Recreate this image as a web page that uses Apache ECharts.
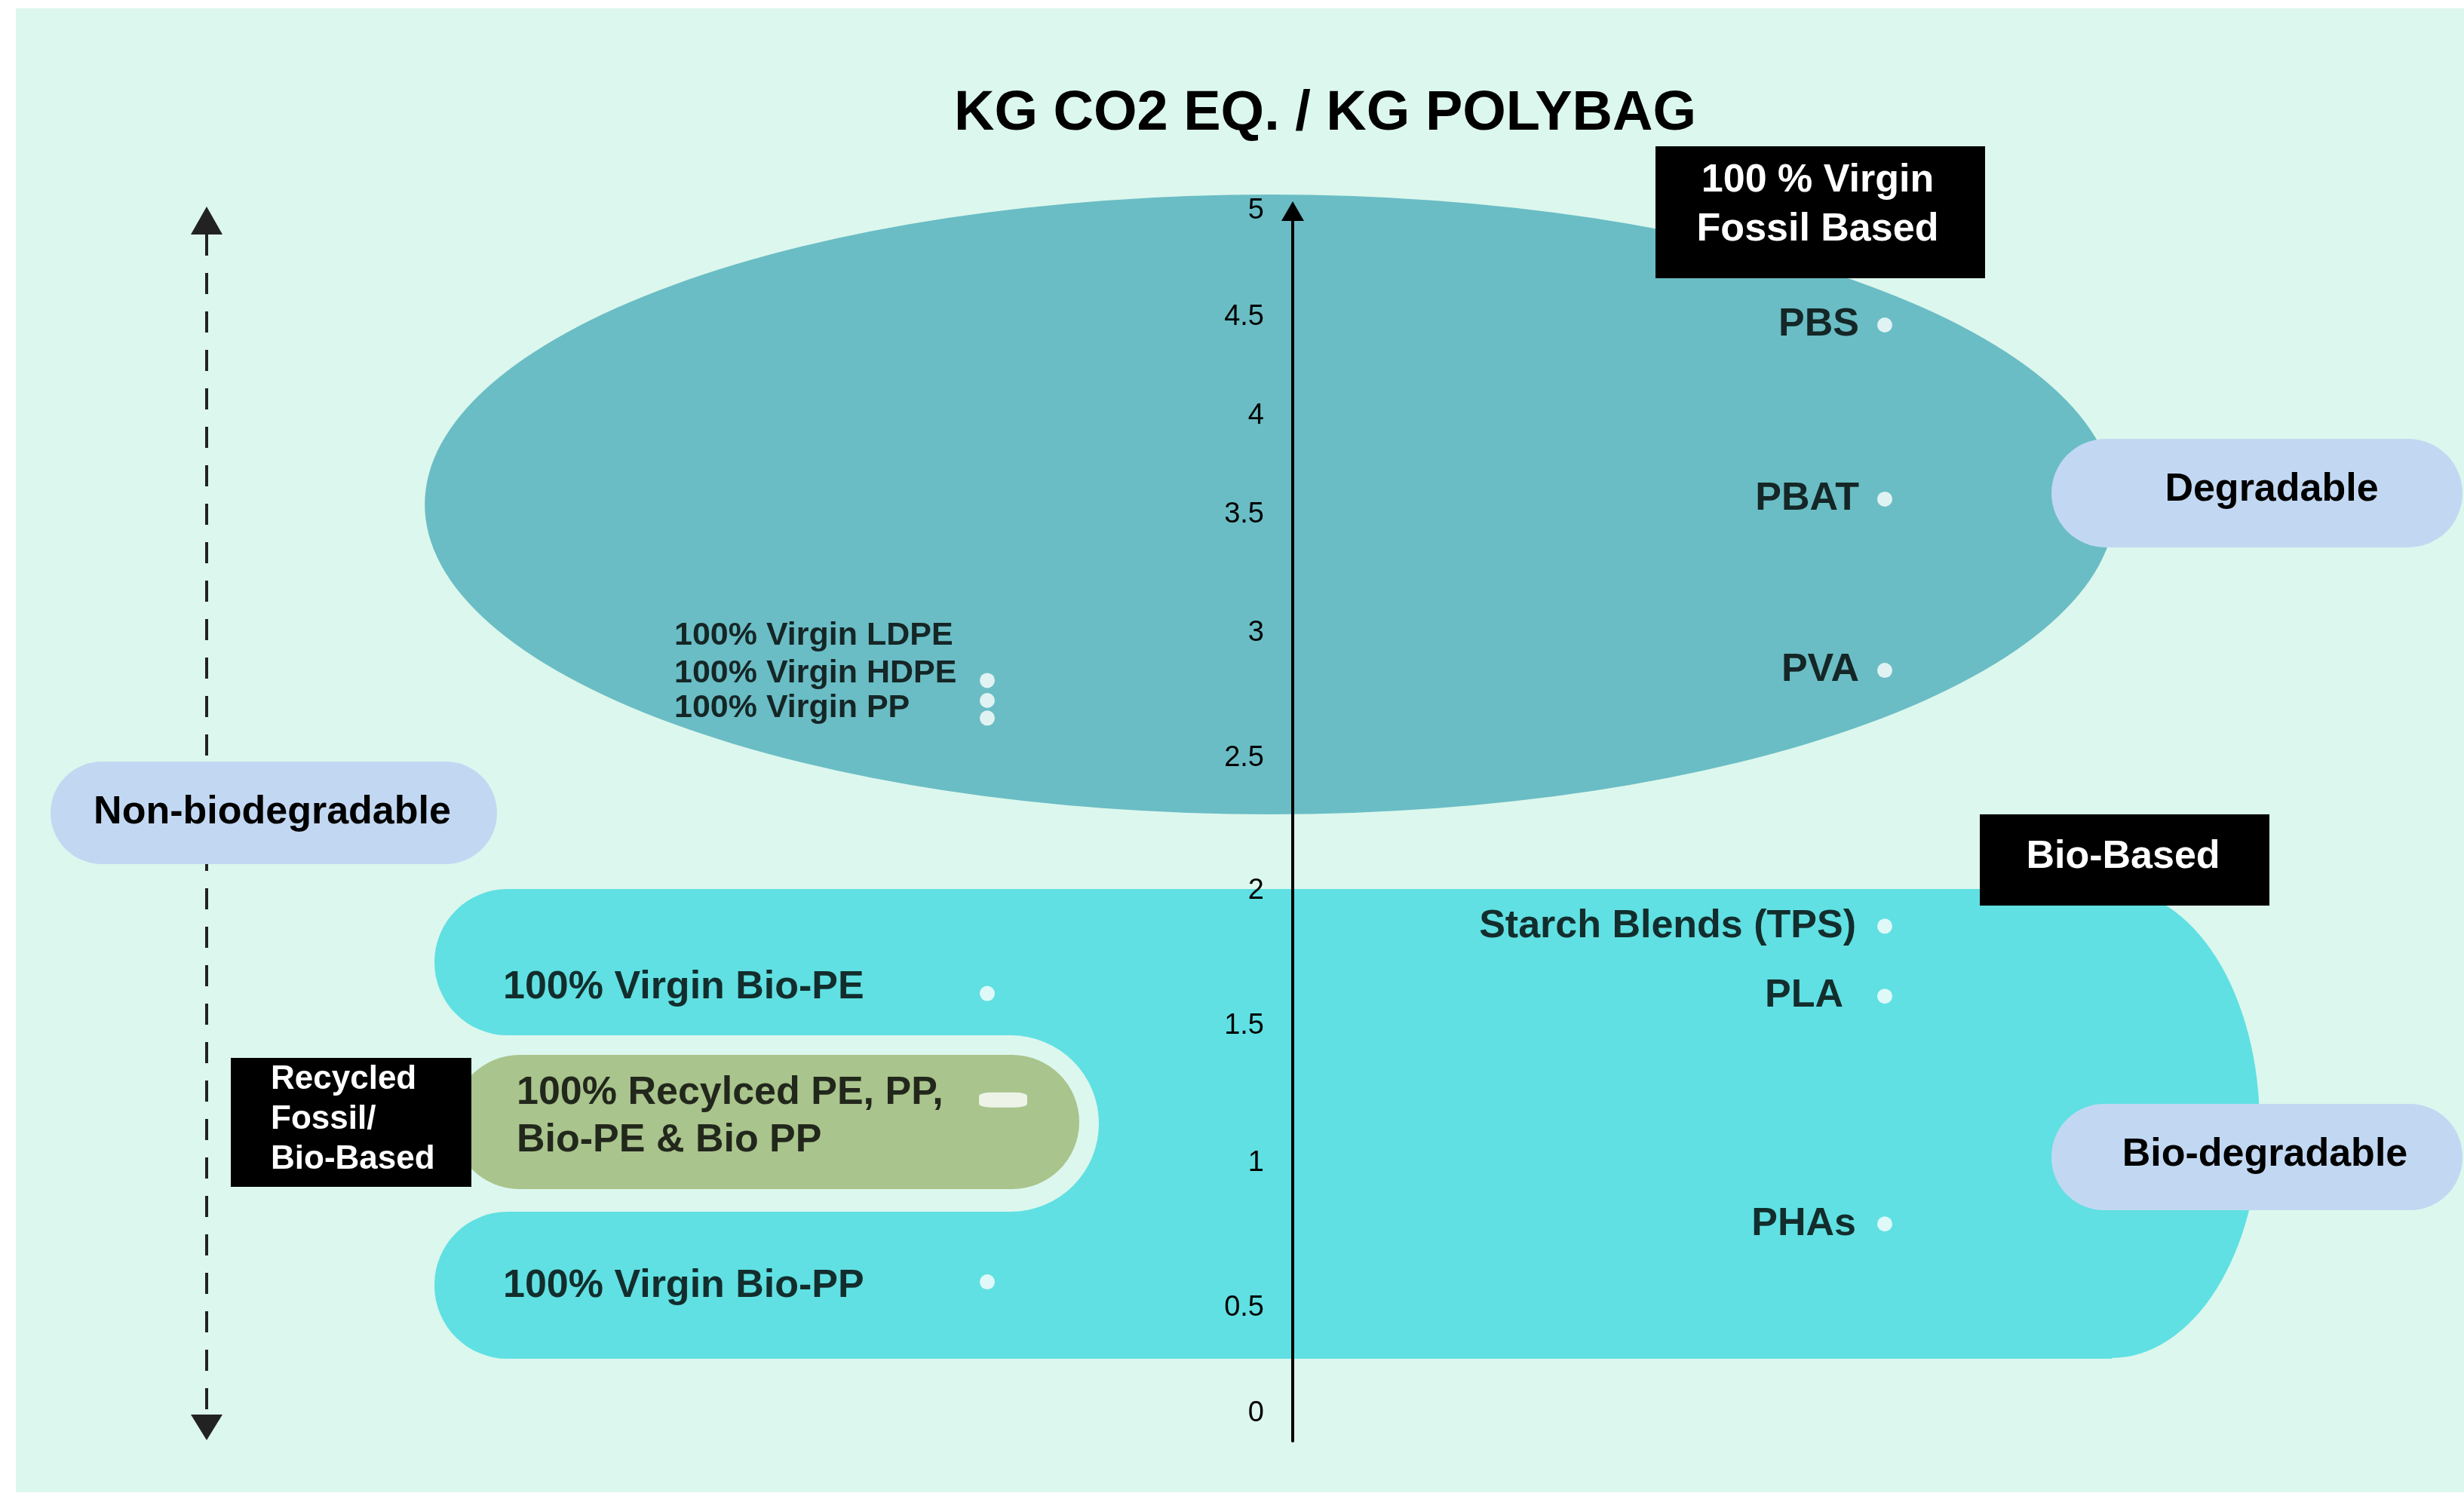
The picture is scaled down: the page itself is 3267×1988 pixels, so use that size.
<!DOCTYPE html>
<html>
<head>
<meta charset="UTF-8">
<title>KG CO2 EQ. / KG POLYBAG</title>
<script src="https://cdn.jsdelivr.net/npm/echarts@6/dist/echarts.min.js"></script>
<style>
html, body {
	margin: 0;
	padding: 0;
	background: #ffffff;
}

#main {
	width: 3267px;
	height: 1988px;
}
</style>
</head>
<body>
	<div id="main"></div>
	<script>
		// kg CO2 eq. per kg of bag
		var yTicks = [ 0, 0.5, 1, 1.5, 2, 2.5, 3, 3.5, 4, 4.5, 5 ];

		var fossilNames = [ '100% Virgin LDPE', '100% Virgin HDPE', '100% Virgin PP' ];
		var fossilValues = [ 2.81, 2.73, 2.66 ];

		var degradableNames = [ 'PBS', 'PBAT', 'PVA' ];
		var degradableValues = [ 4.46, 3.58, 2.85 ];

		var bioNames = [ '100% Virgin Bio-PE', '100% Virgin Bio-PP' ];
		var bioValues = [ 1.62, 0.59 ];

		var recycledNames = [ '100% Recylced PE, PP,\nBio-PE & Bio PP' ];
		var recycledValues = [ 1.23 ];

		var biodegNames = [ 'Starch Blends (TPS)', 'PLA', 'PHAs' ];
		var biodegValues = [ 1.87, 1.61, 0.79 ];

		// the drawn axis is not evenly spaced: height of each tick on a 0..5 run
		var tickStops = [ 0, 0.437, 1.040, 1.611, 2.171, 2.724, 3.246, 3.736, 4.149, 4.559, 5 ];

		// horizontal place of the two columns of dots (the axis sits at 0)
		var COL_LEFT = -4.05, COL_RIGHT = 7.85;

		var bg = '#dcf7ee', teal = '#6abdc4', cyan = '#60e0e2', olive = '#a9c48c', pill = '#c2d8f2';
		var FONT = 'Liberation Sans';

		function toAxis(v) {
			for (var i = 0; i < yTicks.length - 1; i++) {
				if (v <= yTicks[i + 1]) {
					var t = (v - yTicks[i]) / (yTicks[i + 1] - yTicks[i]);
					return tickStops[i] + t * (tickStops[i + 1] - tickStops[i]);
				}
			}
			return tickStops[tickStops.length - 1];
		}

		function points(names, values, x, labels) {
			return names.map(function(n, i) {
				var item = { name : n, value : [ x, toAxis(values[i]), values[i] ] };
				if (labels && labels[i]) item.label = labels[i];
				return item;
			});
		}

		var labelBase = {
			show : true,
			formatter : '{b}',
			color : '#000',
			fontFamily : FONT,
			fontWeight : 'bold',
			fontSize : 52
		};

		function dots(name, data, label) {
			return {
				name : name,
				type : 'scatter',
				z : 11,
				clip : false,
				symbolSize : 20,
				itemStyle : { color : '#fff' },
				emphasis : { disabled : true },
				label : Object.assign({}, labelBase, label),
				data : data
			};
		}

		var myChart = echarts.init(document.getElementById('main'));

		var recycledSeries = dots('Recycled', points(recycledNames, recycledValues, COL_LEFT), {
			position : 'inside', align : 'left', verticalAlign : 'middle', lineHeight : 63, offset : [ -645, 22 ]
		});
		recycledSeries.symbol = 'roundRect';
		recycledSeries.symbolSize = [ 64, 20 ];
		recycledSeries.symbolOffset = [ 21, 0 ];

		var option = {
			animation : false,
			backgroundColor : '#ffffff',
			// the grid starts at the vertical axis; the left column is drawn outside it
			grid : {
				left : 1714,
				right : 0,
				top : 280,
				bottom : 77,
				outerBoundsMode : 'none'
			},
			xAxis : {
				type : 'value',
				min : 0,
				max : 15.53,
				show : false
			},
			yAxis : {
				type : 'value',
				min : -0.116,
				max : 5,
				z : 10,
				axisLine : {
					show : true,
					onZero : false,
					symbol : [ 'none', 'triangle' ],
					symbolSize : [ 30, 26 ],
					lineStyle : { color : '#000', width : 4 }
				},
				axisTick : { show : false },
				splitLine : { show : false },
				axisLabel : {
					customValues : tickStops,
					margin : 38,
					color : '#000',
					fontFamily : FONT,
					fontSize : 38,
					formatter : function(u) {
						for (var i = 0; i < tickStops.length; i++) {
							if (Math.abs(tickStops[i] - u) < 1e-6) return String(yTicks[i]);
						}
						return '';
					}
				}
			},
			graphic : [
				// backdrop
				{ type : 'rect', z : 0, shape : { x : 21, y : 11, width : 3246, height : 1968 }, style : { fill : bg } },
				// fossil based region
				{ type : 'circle', z : 1, x : 1684, y : 669, scaleX : 2.727, shape : { cx : 0, cy : 0, r : 411 }, style : { fill : teal } },
				// bio based region
				{ type : 'rect', z : 1, shape : { x : 680, y : 1179, width : 2120, height : 623 }, style : { fill : cyan } },
				{ type : 'circle', z : 1, x : 2800, y : 1490, scaleX : 0.63, shape : { cx : 0, cy : 0, r : 311 }, style : { fill : cyan } },
				{ type : 'rect', z : 2, shape : { x : 660, y : 1373, width : 797, height : 234, r : [ 0, 117, 117, 0 ] }, style : { fill : bg } },
				{ type : 'rect', z : 3, shape : { x : 576, y : 1179, width : 900, height : 194, r : 97 }, style : { fill : cyan } },
				{ type : 'rect', z : 3, shape : { x : 576, y : 1607, width : 900, height : 195, r : 97 }, style : { fill : cyan } },
				{ type : 'rect', z : 4, shape : { x : 600, y : 1399, width : 831, height : 178, r : 89 }, style : { fill : olive } },
				// dashed arrow on the left
				{ type : 'line', z : 4, shape : { x1 : 274, y1 : 311, x2 : 274, y2 : 1876 }, style : { stroke : '#222', lineWidth : 4, lineDash : [ 28, 23 ] } },
				{ type : 'polygon', z : 4, shape : { points : [ [ 274, 274 ], [ 253, 311 ], [ 295, 311 ] ] }, style : { fill : '#222' } },
				{ type : 'polygon', z : 4, shape : { points : [ [ 253, 1876 ], [ 295, 1876 ], [ 274, 1910 ] ] }, style : { fill : '#222' } },
				// pills
				{ type : 'rect', z : 5, shape : { x : 67, y : 1010, width : 592, height : 136, r : 68 }, style : { fill : pill } },
				{ type : 'rect', z : 5, shape : { x : 2720, y : 582, width : 545, height : 144, r : 72 }, style : { fill : pill } },
				{ type : 'rect', z : 5, shape : { x : 2720, y : 1464, width : 545, height : 141, r : 70 }, style : { fill : pill } },
				// black boxes
				{ type : 'rect', z : 5, shape : { x : 2195, y : 194, width : 437, height : 175 }, style : { fill : '#000' } },
				{ type : 'rect', z : 5, shape : { x : 2625, y : 1080, width : 384, height : 121 }, style : { fill : '#000' } },
				{ type : 'rect', z : 5, shape : { x : 306, y : 1403, width : 319, height : 171 }, style : { fill : '#000' } },
				// texts
				{ type : 'text', z : 6, x : 1757, y : 152, style : { text : 'KG CO2 EQ. / KG POLYBAG', fill : '#000', align : 'center', verticalAlign : 'middle', font : 'bold 74px "Liberation Sans"' } },
				{ type : 'text', z : 6, x : 2410, y : 272, style : { text : '100 % Virgin\nFossil Based', fill : '#fff', align : 'center', verticalAlign : 'middle', lineHeight : 65, font : 'bold 52px "Liberation Sans"' } },
				{ type : 'text', z : 6, x : 2815, y : 1137, style : { text : 'Bio-Based', fill : '#fff', align : 'center', verticalAlign : 'middle', font : 'bold 52px "Liberation Sans"' } },
				{ type : 'text', z : 6, x : 359, y : 1485, style : { text : 'Recycled\nFossil/\nBio-Based', fill : '#fff', align : 'left', verticalAlign : 'middle', lineHeight : 53, font : 'bold 44px "Liberation Sans"' } },
				{ type : 'text', z : 6, x : 361, y : 1078, style : { text : 'Non-biodegradable', fill : '#000', align : 'center', verticalAlign : 'middle', font : 'bold 52px "Liberation Sans"' } },
				{ type : 'text', z : 6, x : 3012, y : 650, style : { text : 'Degradable', fill : '#000', align : 'center', verticalAlign : 'middle', font : 'bold 52px "Liberation Sans"' } },
				{ type : 'text', z : 6, x : 3003, y : 1532, style : { text : 'Bio-degradable', fill : '#000', align : 'center', verticalAlign : 'middle', font : 'bold 52px "Liberation Sans"' } }
			],
			series : [
				dots('Virgin fossil based', points(fossilNames, fossilValues, COL_LEFT, [
					{ offset : [ -415, -59 ] }, { offset : [ -415, -36 ] }, { offset : [ -415, -13 ] } ]),
					{ position : 'inside', align : 'left', verticalAlign : 'middle', fontSize : 43 }),
				dots('Fossil based degradable', points(degradableNames, degradableValues, COL_RIGHT),
					{ position : 'left', distance : 24 }),
				dots('Virgin bio based', points(bioNames, bioValues, COL_LEFT, [
					{ offset : [ -642, -8 ] }, { offset : [ -642, 6 ] } ]),
					{ position : 'inside', align : 'left', verticalAlign : 'middle' }),
				recycledSeries,
				dots('Bio based biodegradable', points(biodegNames, biodegValues, COL_RIGHT, [ null, { distance : 45 }, null ]),
					{ position : 'left', distance : 28 })
			]
		};

		myChart.setOption(option);
	</script>
</body>
</html>
